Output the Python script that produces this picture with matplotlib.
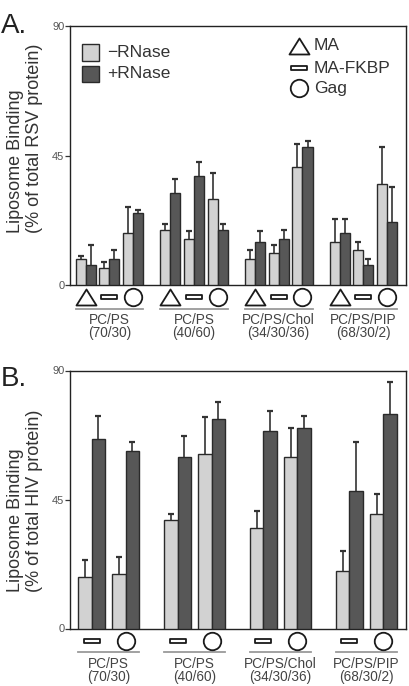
import numpy as np
import matplotlib.pyplot as plt
from matplotlib.path import Path
from matplotlib.patches import Rectangle

plt.rcParams['font.family'] = ['Liberation Sans', 'DejaVu Sans']

# lipid compositions (two-line group labels)
lipid_names = ["PC/PS", "PC/PS", "PC/PS/Chol", "PC/PS/PIP"]
lipid_ratios = ["(70/30)", "(40/60)", "(34/30/36)", "(68/30/2)"]

# Panel A: RSV proteins MA, MA-FKBP, Gag (one row per lipid mix)
rsv_minus = [[9.0, 6.0, 18.0], [19.0, 16.0, 30.0], [9.0, 11.0, 41.0], [15.0, 12.0, 35.0]]
rsv_minus_err = [[1.1, 2.1, 9.0], [2.1, 2.9, 9.0], [3.0, 2.9, 8.0], [8.0, 3.1, 13.0]]
rsv_plus = [[7.0, 9.0, 25.0], [32.0, 38.0, 19.0], [15.0, 16.0, 48.0], [18.0, 7.0, 22.0]]
rsv_plus_err = [[7.0, 3.0, 1.0], [4.9, 4.9, 2.1], [3.9, 3.0, 1.9], [5.1, 2.1, 11.9]]

# Panel B: HIV proteins MA-FKBP, Gag
hiv_minus = [[18.0, 19.0], [38.0, 61.0], [35.0, 60.0], [20.0, 40.0]]
hiv_minus_err = [[6.0, 6.0], [2.1, 12.9], [6.0, 10.0], [7.0, 7.0]]
hiv_plus = [[66.0, 62.0], [60.0, 73.0], [69.0, 70.0], [48.0, 75.0]]
hiv_plus_err = [[8.0, 3.0], [7.0, 6.0], [7.0, 4.0], [17.0, 11.0]]

LIGHT = '#d2d2d2'
DARK = '#575757'
EDGE = '#2a2a2a'
TXT = '#333333'

# marker shapes
TRI = Path([(-1, -0.8), (1, -0.8), (0, 0.8), (-1, -0.8)],
           [Path.MOVETO, Path.LINETO, Path.LINETO, Path.CLOSEPOLY])
RECT = Path([(-1, -0.3), (1, -0.3), (1, 0.3), (-1, 0.3), (-1, -0.3)],
            [Path.MOVETO, Path.LINETO, Path.LINETO, Path.LINETO, Path.CLOSEPOLY])
SYMBOLS = {'MA': (TRI, 14.4), 'MA-FKBP': (RECT, 11.8), 'Gag': ('o', 12.6)}


def draw_symbol(ax, x, y, name, transform):
    m, ms = SYMBOLS[name]
    ax.plot([x], [y], marker=m, ms=ms, mfc='white', mec='#1a1a1a', mew=1.3,
            ls='none', transform=transform, clip_on=False, zorder=5)


def draw_panel(ax, minus, minus_err, plus, plus_err, proteins, group_step, pair_step, xlim):
    minus = np.array(minus)
    plus = np.array(plus)
    n_groups, n_prot = minus.shape
    centers = np.array([[g * group_step + (p - (n_prot - 1) / 2) * pair_step
                         for p in range(n_prot)] for g in range(n_groups)])
    xl = (centers - 0.5).ravel()
    xd = (centers + 0.5).ravel()

    for xs, vals, errs, col in [(xl, minus, minus_err, LIGHT), (xd, plus, plus_err, DARK)]:
        vals = vals.ravel()
        errs = np.array(errs).ravel()
        ax.vlines(xs, vals, vals + errs, color='#333333', lw=1.2, zorder=2)
        ax.plot(xs, vals + errs, marker='_', ms=4, mew=1.6, color='#333333',
                ls='none', zorder=2)
        ax.bar(xs, vals, width=1.0, color=col, edgecolor=EDGE, lw=1.0, zorder=3)

    ax.set_xlim(*xlim)
    ax.set_ylim(0, 90)
    ax.set_yticks([0, 45, 90])
    ax.set_xticks([])
    ax.tick_params(axis='y', length=3.6, width=0.9, color='#333333',
                   labelsize=8, labelcolor='#555555', pad=0.5)
    for sp in ax.spines.values():
        sp.set_linewidth(1.0)
        sp.set_color('#222222')

    tr = ax.get_xaxis_transform()
    for g in range(n_groups):
        for p, name in enumerate(proteins):
            draw_symbol(ax, centers[g, p], -0.048, name, tr)
        left = centers[g, 0] - 1.0
        right = centers[g, -1] + 1.0
        ax.plot([left, right], [-0.093, -0.093], color='#9a9a9a', lw=1.3,
                transform=tr, clip_on=False)
        mid = (left + right) / 2
        ax.text(mid, -0.136, lipid_names[g], transform=tr, ha='center', va='center',
                fontsize=9.8, color='#444444')
        ax.text(mid, -0.187, lipid_ratios[g], transform=tr, ha='center', va='center',
                fontsize=9.8, color='#444444')


fig = plt.figure(figsize=(4.10, 6.86), dpi=100)
W, H = 410, 686

axA = fig.add_axes([70 / W, 1 - 285 / H, 336 / W, 259 / H])
draw_panel(axA, rsv_minus, rsv_minus_err, rsv_plus, rsv_plus_err,
           ['MA', 'MA-FKBP', 'Gag'], 8.44, 2.37, (-3.93, 29.57))

axB = fig.add_axes([70 / W, 1 - 628.5 / H, 336 / W, 258 / H])
draw_panel(axB, hiv_minus, hiv_minus_err, hiv_plus, hiv_plus_err,
           ['MA-FKBP', 'Gag'], 6.30, 2.49, (-1.585 - 1.245, 23.05 - 1.245))

# legend for RNase treatment
for y, col, lab in [(0.897, LIGHT, '\u2212RNase'), (0.815, DARK, '+RNase')]:
    axA.add_patch(Rectangle((0.035, y - 0.032), 0.05, 0.064, transform=axA.transAxes,
                            facecolor=col, edgecolor=EDGE, lw=1.0, zorder=5))
    axA.text(0.111, y, lab, transform=axA.transAxes, ha='left', va='center',
             fontsize=12.5, color=TXT)

# legend for protein symbols
for y, name in [(0.924, 'MA'), (0.837, 'MA-FKBP'), (0.760, 'Gag')]:
    draw_symbol(axA, 0.681, y, name, axA.transAxes)
    axA.text(0.726, y, name, transform=axA.transAxes, ha='left', va='center',
             fontsize=12.5, color=TXT)

# y labels
fig.text(25 / W, 1 - 233 / H, 'Liposome Binding\n(% of total RSV protein)', rotation=90,
         ha='center', va='bottom', multialignment='left', fontsize=13, color=TXT)
fig.text(25 / W, 1 - 592 / H, 'Liposome Binding\n(% of total HIV protein)', rotation=90,
         ha='center', va='bottom', multialignment='left', fontsize=13, color=TXT)

# panel letters
fig.text(1 / W, 1 - 33 / H, 'A.', fontsize=20, ha='left', va='baseline', color='#222222')
fig.text(1 / W, 1 - 386 / H, 'B.', fontsize=20, ha='left', va='baseline', color='#222222')

fig.savefig('out.png', dpi=100)
